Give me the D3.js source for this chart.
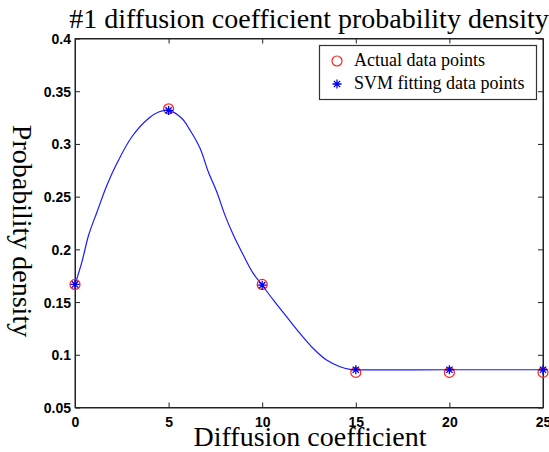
<!DOCTYPE html>
<html>
<head>
<meta charset="utf-8">
<script src="https://cdn.jsdelivr.net/npm/d3@7"></script>
<style>
  body { margin: 0; background: #fff; }
  .tick text { font-family: "Liberation Sans", Arial, sans-serif; font-weight: bold; font-size: 14px; fill: #000; }
  .axis path, .axis line { stroke: #222; }
  .serif { font-family: "Liberation Serif", "Times New Roman", serif; fill: #000; }
</style>
</head>
<body>
<div id="chart"></div>
<script>
// tick labels
var xTicks = [0, 5, 10, 15, 20, 25];
var yTicks = [0.05, 0.1, 0.15, 0.2, 0.25, 0.3, 0.35, 0.4];

// data points
var pointX = [0, 5, 10, 15, 20, 25];
var actualY = [0.1667, 0.3333, 0.1667, 0.0833, 0.0833, 0.0833];
var svmY = [0.1667, 0.3318, 0.1660, 0.0858, 0.0858, 0.0858];

// fitted curve
var curveX = [0, 0.37, 0.73, 1.18, 1.71, 2.24, 3.04, 3.94, 4.5, 5.0, 5.7, 6.14, 6.68, 7.12, 7.57, 8.01, 8.46, 8.99, 9.52, 10.0, 10.6, 11.31, 12.02, 12.73, 13.44, 14.16, 14.69, 15, 20, 25];
var curveY = [0.1667, 0.1882, 0.2136, 0.2357, 0.2610, 0.2816, 0.3068, 0.3243, 0.3305, 0.3318, 0.3243, 0.3132, 0.2958, 0.2736, 0.2546, 0.2325, 0.2136, 0.1946, 0.1772, 0.1660, 0.1519, 0.1360, 0.1203, 0.1060, 0.0950, 0.0886, 0.0862, 0.0858, 0.0858, 0.0858];

var width = 549, height = 452;
var margin = {top: 38.5, right: 6, bottom: 44.5, left: 75};

var svg = d3.select("#chart").append("svg")
    .attr("width", width)
    .attr("height", height);

var x = d3.scaleLinear().domain([0, 25]).range([margin.left, width - margin.right]);
var y = d3.scaleLinear().domain([0.05, 0.4]).range([height - margin.bottom, margin.top]);

var fmt = d3.format(".2~f");

// axes, ticks pointing inward on all sides
var xAxis = svg.append("g").attr("class", "axis")
    .attr("transform", "translate(0," + y(0.05) + ")")
    .call(d3.axisBottom(x).tickValues(xTicks).tickSizeInner(-5).tickSizeOuter(0).tickFormat(fmt));
xAxis.selectAll("text").attr("dy", null).attr("y", 19);

var yAxis = svg.append("g").attr("class", "axis")
    .attr("transform", "translate(" + x(0) + ",0)")
    .call(d3.axisLeft(y).tickValues(yTicks).tickSizeInner(-5).tickSizeOuter(0).tickPadding(4).tickFormat(fmt));
yAxis.selectAll("text").attr("dy", null).attr("y", 5);

svg.append("g").attr("class", "axis")
    .attr("transform", "translate(0," + y(0.4) + ")")
    .call(d3.axisTop(x).tickValues(xTicks).tickSizeInner(-5).tickSizeOuter(0).tickFormat(""));
svg.append("g").attr("class", "axis")
    .attr("transform", "translate(" + x(25) + ",0)")
    .call(d3.axisRight(y).tickValues(yTicks).tickSizeInner(-5).tickSizeOuter(0).tickFormat(""));

// frame
svg.append("rect")
    .attr("x", x(0)).attr("y", y(0.4))
    .attr("width", x(25) - x(0)).attr("height", y(0.05) - y(0.4))
    .attr("fill", "none").attr("stroke", "#222");

// fitted curve
var line = d3.line()
    .x(function(d, i) { return x(curveX[i]); })
    .y(function(d) { return y(d); })
    .curve(d3.curveCatmullRom.alpha(0.5));

svg.append("path")
    .datum(curveY)
    .attr("d", line)
    .attr("fill", "none")
    .attr("stroke", "#1a1aff")
    .attr("stroke-width", 1.2);

// markers
function star(cx, cy, s) {
  var d = s * 0.7;
  return "M" + (cx - s) + "," + cy + "H" + (cx + s) +
         "M" + cx + "," + (cy - s) + "V" + (cy + s) +
         "M" + (cx - d) + "," + (cy - d) + "L" + (cx + d) + "," + (cy + d) +
         "M" + (cx - d) + "," + (cy + d) + "L" + (cx + d) + "," + (cy - d);
}

svg.selectAll(".actual")
    .data(actualY)
  .enter().append("circle")
    .attr("class", "actual")
    .attr("cx", function(d, i) { return x(pointX[i]); })
    .attr("cy", function(d) { return y(d); })
    .attr("r", 5)
    .attr("fill", "none")
    .attr("stroke", "#ff2020")
    .attr("stroke-width", 1.2);

svg.selectAll(".svm")
    .data(svmY)
  .enter().append("path")
    .attr("class", "svm")
    .attr("d", function(d, i) { return star(x(pointX[i]), y(d), 4.5); })
    .attr("stroke", "#0000ee")
    .attr("stroke-width", 1.3);

// legend
var lg = svg.append("g");
lg.append("rect")
    .attr("x", 319.5).attr("y", 45.5).attr("width", 217).attr("height", 54)
    .attr("fill", "#fff").attr("stroke", "#333").attr("stroke-width", 1.2);
lg.append("circle")
    .attr("cx", 337).attr("cy", 61).attr("r", 5)
    .attr("fill", "none").attr("stroke", "#ff2020").attr("stroke-width", 1.2);
lg.append("path")
    .attr("d", star(337, 84, 4.5))
    .attr("stroke", "#0000ee").attr("stroke-width", 1.3);
lg.append("text").attr("class", "serif")
    .attr("x", 354).attr("y", 66)
    .style("font-size", "18px")
    .text("Actual data points");
lg.append("text").attr("class", "serif")
    .attr("x", 354).attr("y", 89)
    .style("font-size", "18px")
    .text("SVM fitting data points");

// title and labels
svg.append("text").attr("class", "serif")
    .attr("x", 309).attr("y", 28)
    .attr("text-anchor", "middle")
    .style("font-size", "28px")
    .text("#1 diffusion coefficient probability density");

svg.append("text").attr("class", "serif")
    .attr("x", 310).attr("y", 446)
    .attr("text-anchor", "middle")
    .style("font-size", "28px")
    .text("Diffusion coefficient");

svg.append("text").attr("class", "serif")
    .attr("transform", "translate(13,231) rotate(90)")
    .attr("text-anchor", "middle")
    .style("font-size", "28px")
    .text("Probability density");
</script>
</body>
</html>
